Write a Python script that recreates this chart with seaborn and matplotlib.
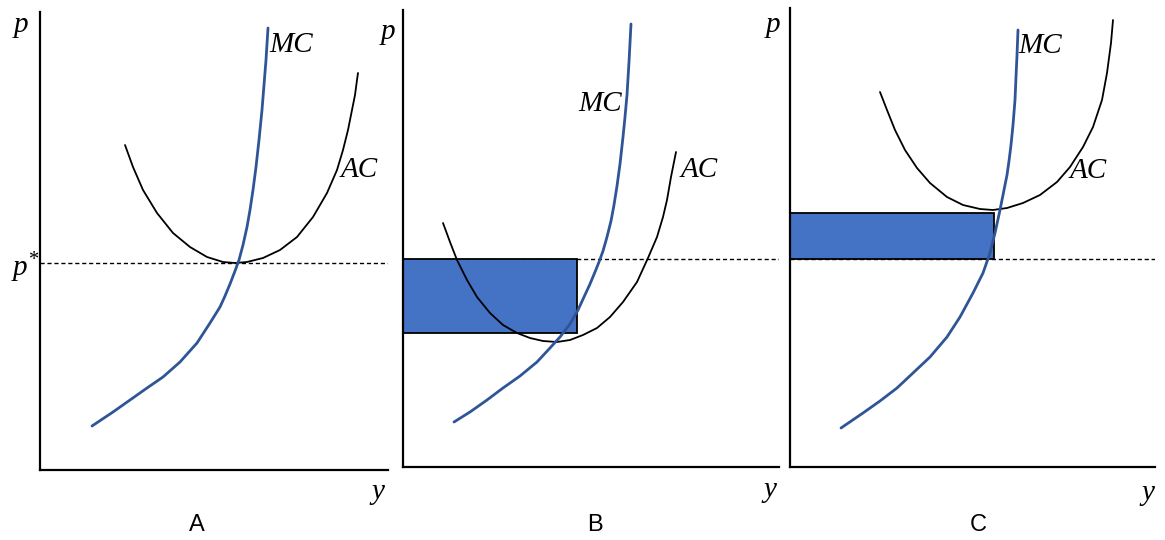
import matplotlib.pyplot as plt
import matplotlib.patches as mpatches
import seaborn as sns

# values are in panel units: quantity to the right of the price axis, price above the quantity axis
mc_a_q = [52, 73, 90, 107, 123, 140, 157, 170, 180, 185, 190, 195, 199, 203, 207, 210, 213, 216, 219, 222,
          224, 226, 228]
mc_a_p = [44, 58, 70, 82, 93, 108, 127, 147, 163, 174, 186, 199, 210, 225, 243, 260, 280, 303, 330, 360,
          385, 410, 442]
ac_a_q = [85, 93, 103, 117, 133, 150, 167, 183, 195, 207, 223, 240, 257, 273, 287, 297, 303, 308, 312, 315,
          317, 318]
ac_a_p = [325, 303, 280, 257, 237, 223, 213, 208, 207, 208, 212, 220, 233, 253, 277, 300, 320, 340, 360, 375,
          390, 397]
p_star_a = 207

mc_b_q = [51, 67, 84, 100, 117, 134, 147, 157, 167, 175, 181, 187, 192, 196, 200, 204, 208, 211, 214, 217,
          220, 222, 224, 226, 228]
mc_b_p = [45, 55, 67, 79, 91, 105, 119, 130, 143, 157, 170, 183, 195, 205, 216, 230, 246, 262, 281, 303,
          330, 350, 372, 405, 443]
ac_b_q = [40, 47, 54, 64, 74, 87, 100, 114, 127, 140, 154, 167, 180, 194, 207, 220, 234, 245, 254, 260, 264,
          268, 271, 273]
ac_b_p = [244, 225, 207, 187, 170, 154, 142, 134, 129, 126, 125, 127, 132, 139, 150, 165, 185, 209, 230, 250,
          267, 290, 305, 315]
price_b = 208
loss_b = [134, 208]   # bottom / top of the shaded box
box_q_b = 174

mc_c_q = [51, 73, 90, 107, 123, 140, 157, 170, 183, 193, 200, 205, 210, 213, 217, 219, 221, 223, 225, 226,
          227, 228]
mc_c_p = [39, 54, 66, 79, 94, 110, 130, 150, 174, 194, 214, 234, 257, 272, 292, 306, 322, 342, 367, 390,
          412, 437]
ac_c_q = [90, 97, 105, 115, 127, 140, 157, 173, 190, 203, 217, 233, 250, 267, 280, 293, 303, 312, 317, 321, 323]
ac_c_p = [375, 357, 337, 317, 299, 284, 270, 262, 258, 257, 259, 264, 272, 285, 300, 320, 340, 367, 394, 424, 447]
price_c = 208
profit_c = [208, 254]
box_q_c = 204

panel_names = ['A', 'B', 'C']

W, H = 1165, 540
mc_color = '#2f5597'
box_color = '#4472c4'

sns.set_style('white')
plt.rcParams['mathtext.fontset'] = 'custom'
plt.rcParams['mathtext.it'] = 'Liberation Serif:italic'
plt.rcParams['mathtext.rm'] = 'Liberation Serif'
plt.rcParams['text.color'] = 'black'

fig = plt.figure(figsize=(W / 100, H / 100), dpi=100)

# axes boxes in pixels: left, right, bottom, top
boxes = [(40, 388, 470, 12), (403, 779, 467, 10), (790, 1155, 467, 8)]


def make_axes(box):
    left, right, bottom, top = box
    ax = fig.add_axes([left / W, 1 - bottom / H, (right - left) / W, (bottom - top) / H])
    ax.set_xlim(0, right - left)
    ax.set_ylim(0, bottom - top)
    ax.set_xticks([])
    ax.set_yticks([])
    sns.despine(ax=ax)
    for s in ['left', 'bottom']:
        ax.spines[s].set_linewidth(1.6)
        ax.spines[s].set_color('black')
    ax.patch.set_alpha(0)
    return ax


def draw_curves(ax, mc_q, mc_p, ac_q, ac_p, price):
    ax.axhline(price, color='black', lw=1.0, dashes=(3, 2), zorder=1)
    sns.lineplot(x=ac_q, y=ac_p, sort=False, estimator=None, color='black', lw=1.3, ax=ax, zorder=3)
    sns.lineplot(x=mc_q, y=mc_p, sort=False, estimator=None, color=mc_color, lw=2.0, ax=ax, zorder=4)


def add_box(ax, q, levels):
    ax.add_patch(mpatches.Rectangle((0, levels[0]), q, levels[1] - levels[0],
                                    facecolor=box_color, edgecolor='black', lw=1.3, zorder=2))


axes = [make_axes(b) for b in boxes]
draw_curves(axes[0], mc_a_q, mc_a_p, ac_a_q, ac_a_p, p_star_a)
draw_curves(axes[1], mc_b_q, mc_b_p, ac_b_q, ac_b_p, price_b)
add_box(axes[1], box_q_b, loss_b)
draw_curves(axes[2], mc_c_q, mc_c_p, ac_c_q, ac_c_p, price_c)
add_box(axes[2], box_q_c, profit_c)


def label(x, y, s, **kw):
    fig.text(x / W, 1 - y / H, s, ha='center', va='center', color='black', **kw)


it = dict(family='Liberation Serif', style='italic', fontsize=21)
# panel A
label(21, 25, 'p', **it)
label(25, 268, '$p^{*}$', fontsize=21)
label(291, 45, 'MC', **it)
label(359, 170, 'AC', **it)
label(378, 492, 'y', **it)
# panel B
label(388, 32, 'p', **it)
label(600, 104, 'MC', **it)
label(699, 170, 'AC', **it)
label(770, 490, 'y', **it)
# panel C
label(773, 25, 'p', **it)
label(1040, 46, 'MC', **it)
label(1088, 171, 'AC', **it)
label(1148, 493, 'y', **it)

for name, x in zip(panel_names, [197, 595, 978]):
    label(x, 525, name, family='Liberation Sans', fontsize=17)

plt.savefig('out.png', dpi=100)
plt.close('all')
